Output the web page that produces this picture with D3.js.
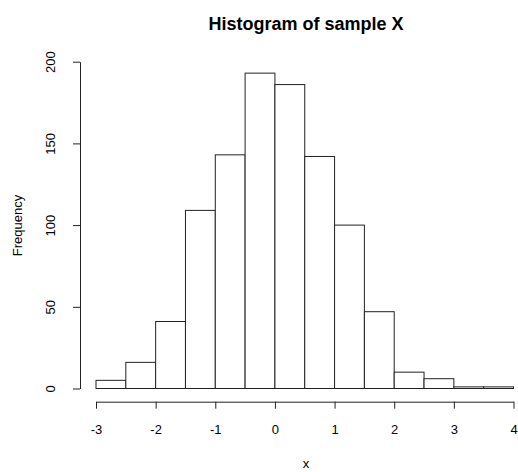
<!DOCTYPE html>
<html>
<head>
<meta charset="utf-8">
<script src="https://cdn.jsdelivr.net/npm/d3@7"></script>
<style>
  body { margin: 0; background: #fff; }
  text { font-family: "Liberation Sans", Arial, sans-serif; fill: #000; }
</style>
</head>
<body>
<svg id="chart"></svg>
<script>
// histogram bins (left edges, width 0.5) and counts
const binStarts = [-3, -2.5, -2, -1.5, -1, -0.5, 0, 0.5, 1, 1.5, 2, 2.5, 3, 3.5];
const counts = [5, 16, 41, 109, 143, 193, 186, 142, 100, 47, 10, 6, 1, 1];
const binWidth = 0.5;
const xTicks = [-3, -2, -1, 0, 1, 2, 3, 4];
const yTicks = [0, 50, 100, 150, 200];

const width = 518, height = 472;

let svg = d3.select('#chart')
  .attr('width', width)
  .attr('height', height);

let x_scale = d3.scaleLinear().domain([-3, 4]).range([96, 513.5]);
let y_scale = d3.scaleLinear().domain([0, 200]).range([388.5, 61.7]);

svg.selectAll('.bar')
  .data(binStarts)
  .join('rect')
  .attr('class', 'bar')
  .attr('x', d => x_scale(d))
  .attr('y', (d, i) => y_scale(counts[i]))
  .attr('width', d => x_scale(d + binWidth) - x_scale(d))
  .attr('height', (d, i) => y_scale(0) - y_scale(counts[i]))
  .attr('fill', '#fff')
  .attr('stroke', '#222')
  .attr('stroke-width', 1);

let xAxis = svg.append('g')
  .attr('transform', 'translate(0, 401.7)')
  .call(d3.axisBottom(x_scale).tickValues(xTicks).tickFormat(d => String(d))
    .tickSize(7).tickSizeOuter(0).tickPadding(16));
xAxis.selectAll('text').style('font-size', '13px');

let yAxis = svg.append('g')
  .attr('transform', 'translate(80, 0)')
  .call(d3.axisLeft(y_scale).tickValues(yTicks).tickSize(7).tickSizeOuter(0));
yAxis.selectAll('text')
  .style('font-size', '13px')
  .attr('text-anchor', 'middle')
  .attr('x', null)
  .attr('dy', null)
  .attr('transform', 'translate(-28, 0) rotate(-90)')
  .attr('y', 0)
  .attr('dominant-baseline', 'middle');

svg.selectAll('.domain, .tick line').attr('stroke', '#222');

svg.append('text')
  .attr('x', 306).attr('y', 30)
  .attr('text-anchor', 'middle')
  .style('font-size', '18px')
  .style('font-weight', 'bold')
  .text('Histogram of sample X');

svg.append('text')
  .attr('x', 306).attr('y', 468)
  .attr('text-anchor', 'middle')
  .style('font-size', '13px')
  .text('x');

svg.append('text')
  .attr('transform', 'translate(22, 225.5) rotate(-90)')
  .attr('text-anchor', 'middle')
  .style('font-size', '13px')
  .text('Frequency');
</script>
</body>
</html>
